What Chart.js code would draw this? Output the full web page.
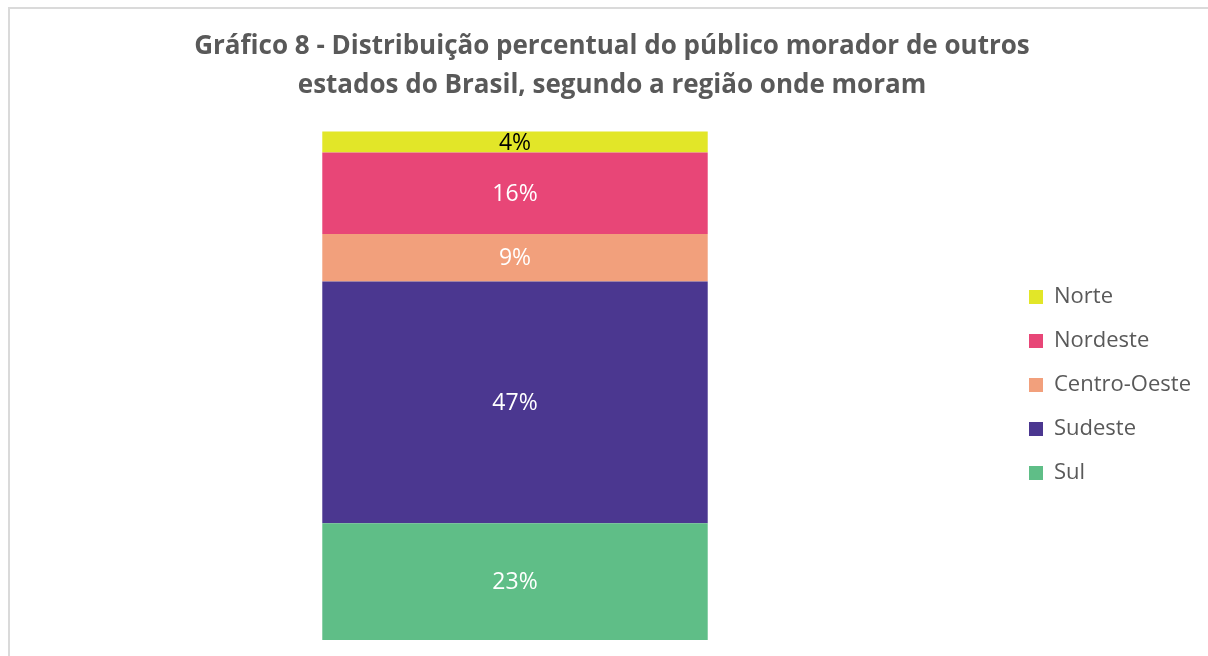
<!DOCTYPE html>
<html>
<head>
<meta charset="utf-8">
<script src="https://cdn.jsdelivr.net/npm/chart.js@4.4.1/dist/chart.umd.min.js"></script>
<style>
  html, body { margin: 0; padding: 0; background: #ffffff; }
  #wrap { position: relative; width: 1208px; height: 656px; overflow: hidden; }
  #frame { position: absolute; left: 8px; top: 7px; width: 1400px; height: 900px;
           border-top: 2px solid #dadada; border-left: 2px solid #dadada; box-sizing: border-box; }
  #box { position: absolute; left: 0; top: 0; width: 1208px; height: 656px; }
</style>
</head>
<body>
<div id="wrap">
  <div id="frame"></div>
  <div id="box"><canvas id="c"></canvas></div>
</div>
<script>
const titleLines = ['Gráfico 8 - Distribuição percentual do público morador de outros',
                    'estados do Brasil, segundo a região onde moram'];
const categories = [''];
const regions = ['Sul', 'Sudeste', 'Centro-Oeste', 'Nordeste', 'Norte'];
const sul = [22.9];
const sudeste = [47.4];
const centroOeste = [9.3];
const nordeste = [16.0];
const norte = [4.1];
const colors = ['#5fbe87', '#4b3790', '#f2a07c', '#e84677', '#e2e628'];
const labelColors = ['#ffffff', '#ffffff', '#ffffff', '#ffffff', '#000000'];

const seriesValues = [sul, sudeste, centroOeste, nordeste, norte];

const FONT = "'Open Sans', 'DejaVu Sans', sans-serif";

const valueLabels = {
  id: 'valueLabels',
  afterDatasetsDraw(chart) {
    const ctx = chart.ctx;
    ctx.save();
    ctx.font = '23px ' + FONT;
    ctx.textAlign = 'center';
    ctx.textBaseline = 'middle';
    chart.data.datasets.forEach((ds, i) => {
      const meta = chart.getDatasetMeta(i);
      meta.data.forEach((el, j) => {
        const p = el.getCenterPoint();
        ctx.fillStyle = labelColors[i];
        ctx.fillText(Math.round(ds.data[j]) + '%', p.x, p.y + 1);
      });
    });
    ctx.restore();
  }
};

new Chart(document.getElementById('c'), {
  type: 'bar',
  data: {
    labels: categories,
    datasets: regions.map((r, i) => ({
      label: r,
      data: seriesValues[i],
      backgroundColor: colors[i],
      borderWidth: 0,
      barPercentage: 0.3917,
      categoryPercentage: 1.0
    }))
  },
  options: {
    responsive: true,
    maintainAspectRatio: false,
    animation: false,
    layout: { padding: { left: 23, right: 7, top: 0, bottom: 16 } },
    scales: {
      x: { stacked: true, display: false },
      y: { stacked: true, display: false, min: 0, max: 100 }
    },
    plugins: {
      tooltip: { enabled: false },
      title: {
        display: true,
        text: titleLines,
        color: '#595959',
        font: { family: FONT, size: 26, weight: 'bold', lineHeight: 1.5 },
        padding: { top: 27.5, bottom: 24.5 }
      },
      legend: {
        position: 'right',
        fullSize: false,
        reverse: true,
        labels: {
          color: '#595959',
          font: { family: FONT, size: 22 },
          boxWidth: 14,
          boxHeight: 14,
          padding: 22
        }
      }
    }
  },
  plugins: [valueLabels]
});
</script>
</body>
</html>
